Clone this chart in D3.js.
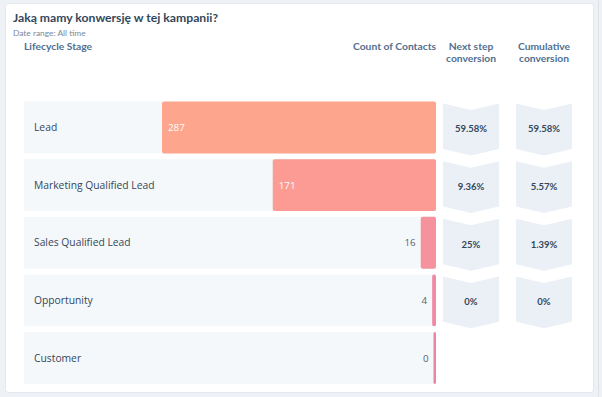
<!DOCTYPE html>
<html>
<head>
<meta charset="utf-8">
<script src="https://cdn.jsdelivr.net/npm/d3@7"></script>
<style>
  html, body { margin: 0; padding: 0; background: #eef1f5; }
  svg { display: block; font-family: "Lato", "Noto Sans", sans-serif; }
</style>
</head>
<body>
<div id="chart"></div>
<script>
// Chart data
var stages = ["Lead", "Marketing Qualified Lead", "Sales Qualified Lead", "Opportunity", "Customer"];
var counts = [287, 171, 16, 4, 0];
var nextStep = ["59.58%", "9.36%", "25%", "0%"];
var cumulative = ["59.58%", "5.57%", "1.39%", "0%"];
var barColors = ["#fda68d", "#fb9b93", "#f6929d", "#ef89a4", "#ea84a7"];

var svgWidth = 602;
var svgHeight = 397;

var svg = d3.select("#chart")
  .append("svg")
  .attr("width", svgWidth)
  .attr("height", svgHeight);

// card
svg.append("rect")
  .attr("x", 5.5).attr("y", 3.5)
  .attr("width", 588).attr("height", 389)
  .attr("rx", 3)
  .attr("fill", "#ffffff")
  .attr("stroke", "#e3e8ee");

// right edge strip
svg.append("line")
  .attr("x1", 598.5).attr("x2", 598.5)
  .attr("y1", 0).attr("y2", svgHeight)
  .attr("stroke", "#dfe3e8");

var textColor = "#33475b";
var rowFont = "'Open Sans', sans-serif";

// Title
svg.append("text")
  .attr("x", 13).attr("y", 22)
  .attr("fill", textColor)
  .style("font-size", "12.2px").style("font-weight", "bold")
  .text("Jaką mamy konwersję w tej kampanii?");

svg.append("text")
  .attr("x", 13).attr("y", 36)
  .attr("fill", "#7a8899")
  .style("font-size", "8.4px")
  .text("Date range: All time");

// Headers
var headerStyle = function(sel) {
  sel.attr("fill", "#516f90").style("font-size", "10.3px").style("font-weight", "bold");
};

svg.append("text").attr("x", 24).attr("y", 50).call(headerStyle).text("Lifecycle Stage");
svg.append("text").attr("x", 436).attr("y", 50).attr("text-anchor", "end").call(headerStyle).text("Count of Contacts");

var colNext = 471, colCum = 544;
[["Next step", "conversion", colNext], ["Cumulative", "conversion", colCum]].forEach(function(h) {
  svg.append("text").attr("x", h[2]).attr("y", 50).attr("text-anchor", "middle").call(headerStyle).text(h[0]);
  svg.append("text").attr("x", h[2]).attr("y", 62).attr("text-anchor", "middle").call(headerStyle).text(h[1]);
});

// Scales
var yScale = d3.scaleBand()
  .domain(stages)
  .range([101.5, 384])
  .paddingInner(0.1);

var barRight = 436;
var xScale = d3.scaleLinear()
  .domain([0, d3.max(counts)])
  .range([0, 274]);

var rows = svg.selectAll("g.row")
  .data(stages)
  .enter()
  .append("g")
  .attr("class", "row")
  .attr("transform", d => `translate(0, ${yScale(d)})`);

var bh = yScale.bandwidth();

// row background
rows.append("rect")
  .attr("x", 24).attr("y", 0)
  .attr("width", barRight - 24).attr("height", bh)
  .attr("fill", "#f5f8fa");

// stage label
rows.append("text")
  .attr("x", 34).attr("y", bh / 2 + 3.5)
  .attr("fill", textColor)
  .style("font-family", rowFont)
  .style("font-size", "10.3px")
  .text(d => d);

// bars
rows.append("rect")
  .attr("x", (d, i) => barRight - Math.max(xScale(counts[i]), 2.5))
  .attr("y", 0)
  .attr("width", (d, i) => Math.max(xScale(counts[i]), 2.5))
  .attr("height", bh)
  .attr("rx", 2)
  .attr("fill", (d, i) => barColors[i]);

// count labels
rows.append("text")
  .attr("x", function(d, i) {
    var w = Math.max(xScale(counts[i]), 2.5);
    return w > 40 ? barRight - w + 6 : barRight - w - 5;
  })
  .attr("y", bh / 2 + 3.5)
  .attr("text-anchor", (d, i) => xScale(counts[i]) > 40 ? "start" : "end")
  .attr("fill", (d, i) => xScale(counts[i]) > 40 ? "#ffffff" : "#55606c")
  .style("font-family", rowFont)
  .style("font-size", "9.8px")
  .text((d, i) => counts[i]);

// Chevrons
var chevW = 56, notch = 6.5;
function chevron(cx, top, bottom) {
  var x0 = cx - chevW / 2, x1 = cx + chevW / 2;
  return `M${x0},${top} L${cx},${top + notch} L${x1},${top} L${x1},${bottom - notch} L${cx},${bottom} L${x0},${bottom - notch} Z`;
}

var convRows = rows.filter((d, i) => i < nextStep.length);

[[colNext, nextStep], [colCum, cumulative]].forEach(function(col) {
  convRows.append("path")
    .attr("d", chevron(col[0], 2, bh + 2))
    .attr("fill", "#eaf0f6");
  convRows.append("text")
    .attr("x", col[0]).attr("y", bh / 2 + 5)
    .attr("text-anchor", "middle")
    .attr("fill", textColor)
    .style("font-size", "9.5px").style("font-weight", "bold")
    .text((d, i) => col[1][i]);
});
</script>
</body>
</html>
